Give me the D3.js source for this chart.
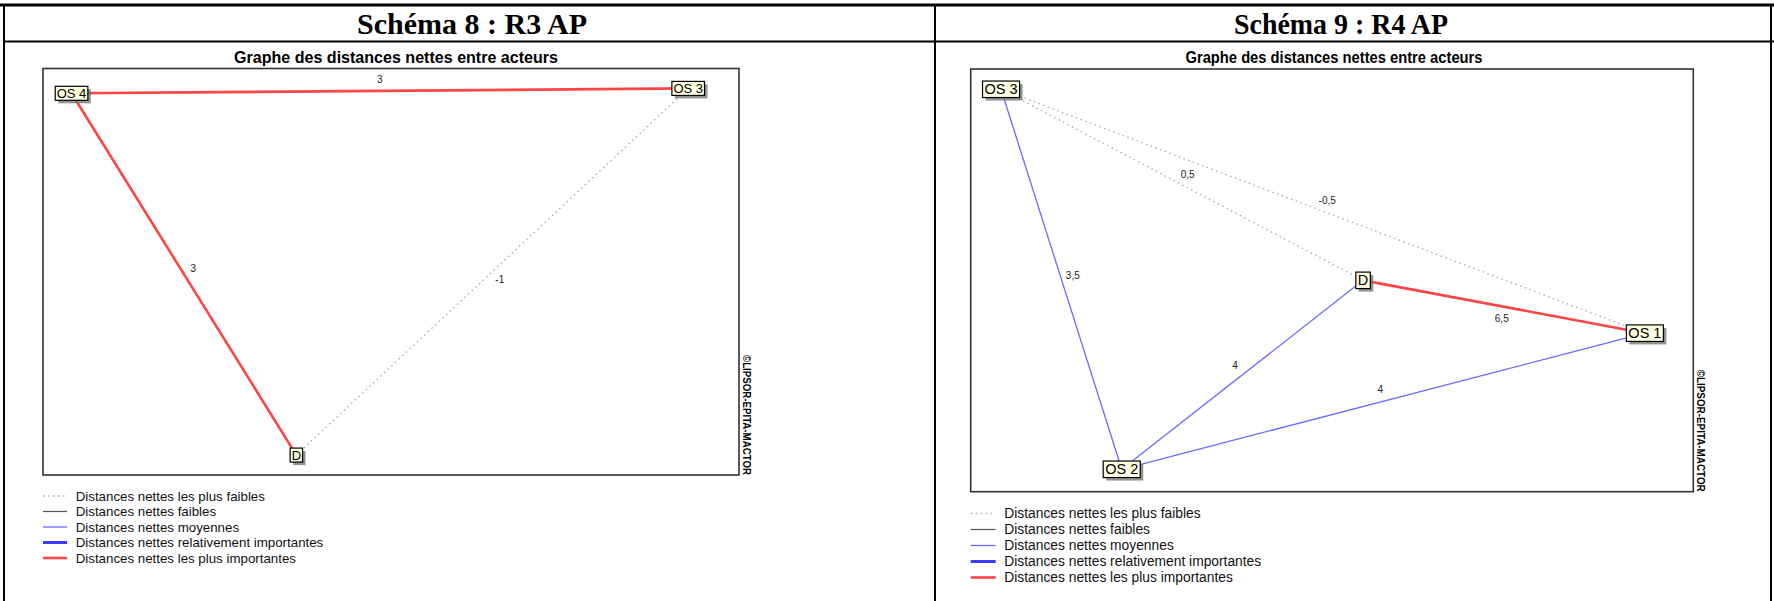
<!DOCTYPE html>
<html>
<head>
<meta charset="utf-8">
<script src="https://cdn.jsdelivr.net/npm/d3@7/dist/d3.min.js"></script>
<style>
  html, body { margin: 0; padding: 0; background: #fff; }
  svg { display: block; }
</style>
</head>
<body>
<svg id="chart" width="1774" height="601"></svg>
<script>
// ---------------- DATA ----------------
const legendLabels = [
  "Distances nettes les plus faibles",
  "Distances nettes faibles",
  "Distances nettes moyennes",
  "Distances nettes relativement importantes",
  "Distances nettes les plus importantes"
];
const graphTitle = "Graphe des distances nettes entre acteurs";
const watermark = "©LIPSOR-EPITA-MACTOR";

// Schéma 8 : R3 AP  (node positions in map units 0..100)
const title8 = "Schéma 8 : R3 AP";
const nodes8 = ["OS 4", "OS 3", "D"];
const nodeX8 = [4.1, 92.7, 36.4];
const nodeY8 = [6.1, 4.9, 95.1];
const edgeSource8 = ["OS 4", "OS 4", "OS 3"];
const edgeTarget8 = ["OS 3", "D", "D"];
const edgeValue8 = [3, 3, -1];
const edgeClass8 = [4, 4, 0];

// Schéma 9 : R4 AP
const title9 = "Schéma 9 : R4 AP";
const nodes9 = ["OS 3", "D", "OS 1", "OS 2"];
const nodeX9 = [4.2, 54.3, 93.3, 20.9];
const nodeY9 = [4.8, 50.0, 62.5, 94.7];
const edgeSource9 = ["OS 3", "OS 3", "OS 3", "OS 1", "OS 2", "OS 2"];
const edgeTarget9 = ["D", "OS 1", "OS 2", "D", "D", "OS 1"];
const edgeValue9 = [0.5, -0.5, 3.5, 6.5, 4, 4];
const edgeClass9 = [0, 0, 2, 4, 2, 2];

// ---------------- STYLES ----------------
const classStyle = [
  { color: "#a8a8a8", width: 1.3, dash: "1.5,3.5" },
  { color: "#555555", width: 1.2, dash: null },
  { color: "#6a6aff", width: 1.3, dash: null },
  { color: "#3b3bff", width: 3, dash: null },
  { color: "#ff4444", width: 2.6, dash: null }
];

const fr = d3.formatLocale({ decimal: ",", thousands: " ", grouping: [3], currency: ["", "€"], minus: "-" });
const fmt = fr.format("~g");

const svg = d3.select("#chart");

// ---------------- TABLE FRAME ----------------
const frame = svg.append("g").attr("stroke", "#000").attr("fill", "none");
frame.append("line").attr("x1", 0).attr("x2", 1774).attr("y1", 5).attr("y2", 5).attr("stroke-width", 3);
frame.append("line").attr("x1", 4).attr("x2", 1774).attr("y1", 41.5).attr("y2", 41.5).attr("stroke-width", 2);
frame.append("line").attr("x1", 4).attr("x2", 4).attr("y1", 4).attr("y2", 601).attr("stroke-width", 2);
frame.append("line").attr("x1", 935).attr("x2", 935).attr("y1", 4).attr("y2", 601).attr("stroke-width", 2);
frame.append("line").attr("x1", 1771).attr("x2", 1771).attr("y1", 4).attr("y2", 601).attr("stroke-width", 2);

// ---------------- PANEL DRAWER ----------------
function drawPanel(cfg) {
  const g = svg.append("g");

  // main title
  g.append("text")
    .attr("x", cfg.titleX).attr("y", 34)
    .attr("text-anchor", "middle")
    .attr("font-family", "'Liberation Serif', 'DejaVu Serif', serif")
    .attr("font-weight", "bold")
    .attr("font-size", 30)
    .attr("textLength", cfg.titleW).attr("lengthAdjust", "spacingAndGlyphs")
    .text(cfg.title);

  // graph title
  g.append("text")
    .attr("x", cfg.gTitleX).attr("y", 62.5)
    .attr("text-anchor", "middle")
    .attr("font-family", "'Liberation Sans', Arial, sans-serif")
    .attr("font-weight", "bold")
    .attr("font-size", 17)
    .attr("textLength", cfg.gTitleW).attr("lengthAdjust", "spacingAndGlyphs")
    .text(graphTitle);

  const b = cfg.box;
  const x = d3.scaleLinear().domain([0, 100]).range([b.x0, b.x1]);
  const y = d3.scaleLinear().domain([0, 100]).range([b.y0, b.y1]);

  // plot box
  g.append("rect")
    .attr("x", b.x0).attr("y", b.y0)
    .attr("width", b.x1 - b.x0).attr("height", b.y1 - b.y0)
    .attr("fill", "#fff").attr("stroke", "#333").attr("stroke-width", 1.6);

  const pos = {};
  cfg.nodes.forEach((n, i) => { pos[n] = [x(cfg.nodeX[i]), y(cfg.nodeY[i])]; });

  const edges = cfg.src.map((s, i) => ({ s, t: cfg.tgt[i], v: cfg.val[i], c: cfg.cls[i] }));
  const ordered = edges.slice().sort((a, b2) => a.c - b2.c);

  // edges
  g.append("g").selectAll("line").data(ordered).join("line")
    .attr("x1", d => pos[d.s][0]).attr("y1", d => pos[d.s][1])
    .attr("x2", d => pos[d.t][0]).attr("y2", d => pos[d.t][1])
    .attr("stroke", d => classStyle[d.c].color)
    .attr("stroke-width", d => classStyle[d.c].width)
    .attr("stroke-dasharray", d => classStyle[d.c].dash)
    .attr("stroke-linecap", "butt");

  // edge labels: midpoint, shifted along the left-hand normal of source->target
  const labelPos = d => {
    const [x1, y1] = pos[d.s], [x2, y2] = pos[d.t];
    const dx = x2 - x1, dy = y2 - y1, L = Math.hypot(dx, dy);
    const off = cfg.labelOff;
    return [(x1 + x2) / 2 + off * dy / L, (y1 + y2) / 2 - off * dx / L];
  };
  g.append("g").selectAll("text").data(edges).join("text")
    .attr("x", d => labelPos(d)[0])
    .attr("y", d => labelPos(d)[1])
    .attr("text-anchor", "middle")
    .attr("dominant-baseline", "central")
    .attr("font-family", "'Liberation Sans', Arial, sans-serif")
    .attr("font-size", cfg.edgeFont)
    .attr("fill", "#222")
    .text(d => fmt(d.v));

  // nodes
  const ng = g.append("g").selectAll("g").data(cfg.nodes).join("g")
    .attr("transform", d => `translate(${pos[d][0]},${pos[d][1]})`);
  ng.each(function (d) {
    const sel = d3.select(this);
    const t = sel.append("text")
      .attr("text-anchor", "middle")
      .attr("dominant-baseline", "central")
      .attr("font-family", "'Liberation Sans', Arial, sans-serif")
      .attr("font-size", cfg.nodeFont)
      .attr("fill", "#000")
      .text(d);
    const w = t.node().getComputedTextLength() + cfg.nodePad;
    const h = cfg.nodeH;
    sel.insert("rect", "text")
      .attr("x", -w / 2 + 3).attr("y", -h / 2 + 3)
      .attr("width", w).attr("height", h)
      .attr("fill", "#6f6f6f").attr("opacity", 0.75);
    sel.insert("rect", "text")
      .attr("x", -w / 2).attr("y", -h / 2)
      .attr("width", w).attr("height", h)
      .attr("fill", "#ffffe1").attr("stroke", "#000").attr("stroke-width", 1.2);
  });

  // watermark
  g.append("text")
    .attr("transform", `translate(${cfg.wmX},${b.y1}) rotate(90)`)
    .attr("text-anchor", "end")
    .attr("dominant-baseline", "central")
    .attr("font-family", "'Liberation Sans', Arial, sans-serif")
    .attr("font-weight", "bold")
    .attr("font-size", 10)
    .attr("textLength", cfg.wmLen).attr("lengthAdjust", "spacingAndGlyphs")
    .text(watermark);

  // legend
  const lg = g.append("g").selectAll("g").data(legendLabels).join("g")
    .attr("transform", (d, i) => `translate(0,${cfg.legY0 + i * cfg.legStep})`);
  lg.append("line")
    .attr("x1", cfg.legX0).attr("x2", cfg.legX1)
    .attr("y1", 0).attr("y2", 0)
    .attr("stroke", (d, i) => classStyle[i].color)
    .attr("stroke-width", (d, i) => classStyle[i].width)
    .attr("stroke-dasharray", (d, i) => classStyle[i].dash);
  lg.append("text")
    .attr("x", cfg.legTX).attr("y", 0)
    .attr("dominant-baseline", "central")
    .attr("font-family", "'Liberation Sans', Arial, sans-serif")
    .attr("font-size", cfg.legFont)
    .attr("fill", "#111")
    .text(d => d);
}

drawPanel({
  title: title8, titleX: 472, titleW: 230,
  gTitleX: 396, gTitleW: 324,
  box: { x0: 43, y0: 68.5, x1: 739, y1: 475 },
  nodes: nodes8, nodeX: nodeX8, nodeY: nodeY8,
  src: edgeSource8, tgt: edgeTarget8, val: edgeValue8, cls: edgeClass8,
  edgeFont: 10, labelOff: 11, nodeFont: 13, nodePad: 3, nodeH: 14,
  wmX: 746, wmLen: 120,
  legX0: 43, legX1: 67, legTX: 75.7, legY0: 496, legStep: 15.5, legFont: 13.3
});

drawPanel({
  title: title9, titleX: 1341, titleW: 214,
  gTitleX: 1334, gTitleW: 297,
  box: { x0: 970.7, y0: 69, x1: 1693.3, y1: 491.7 },
  nodes: nodes9, nodeX: nodeX9, nodeY: nodeY9,
  src: edgeSource9, tgt: edgeTarget9, val: edgeValue9, cls: edgeClass9,
  edgeFont: 10, labelOff: 12, nodeFont: 14.5, nodePad: 4, nodeH: 16.5,
  wmX: 1700, wmLen: 122,
  legX0: 970.7, legX1: 995.7, legTX: 1004.3, legY0: 513.5, legStep: 16, legFont: 13.8
});
</script>
</body>
</html>
